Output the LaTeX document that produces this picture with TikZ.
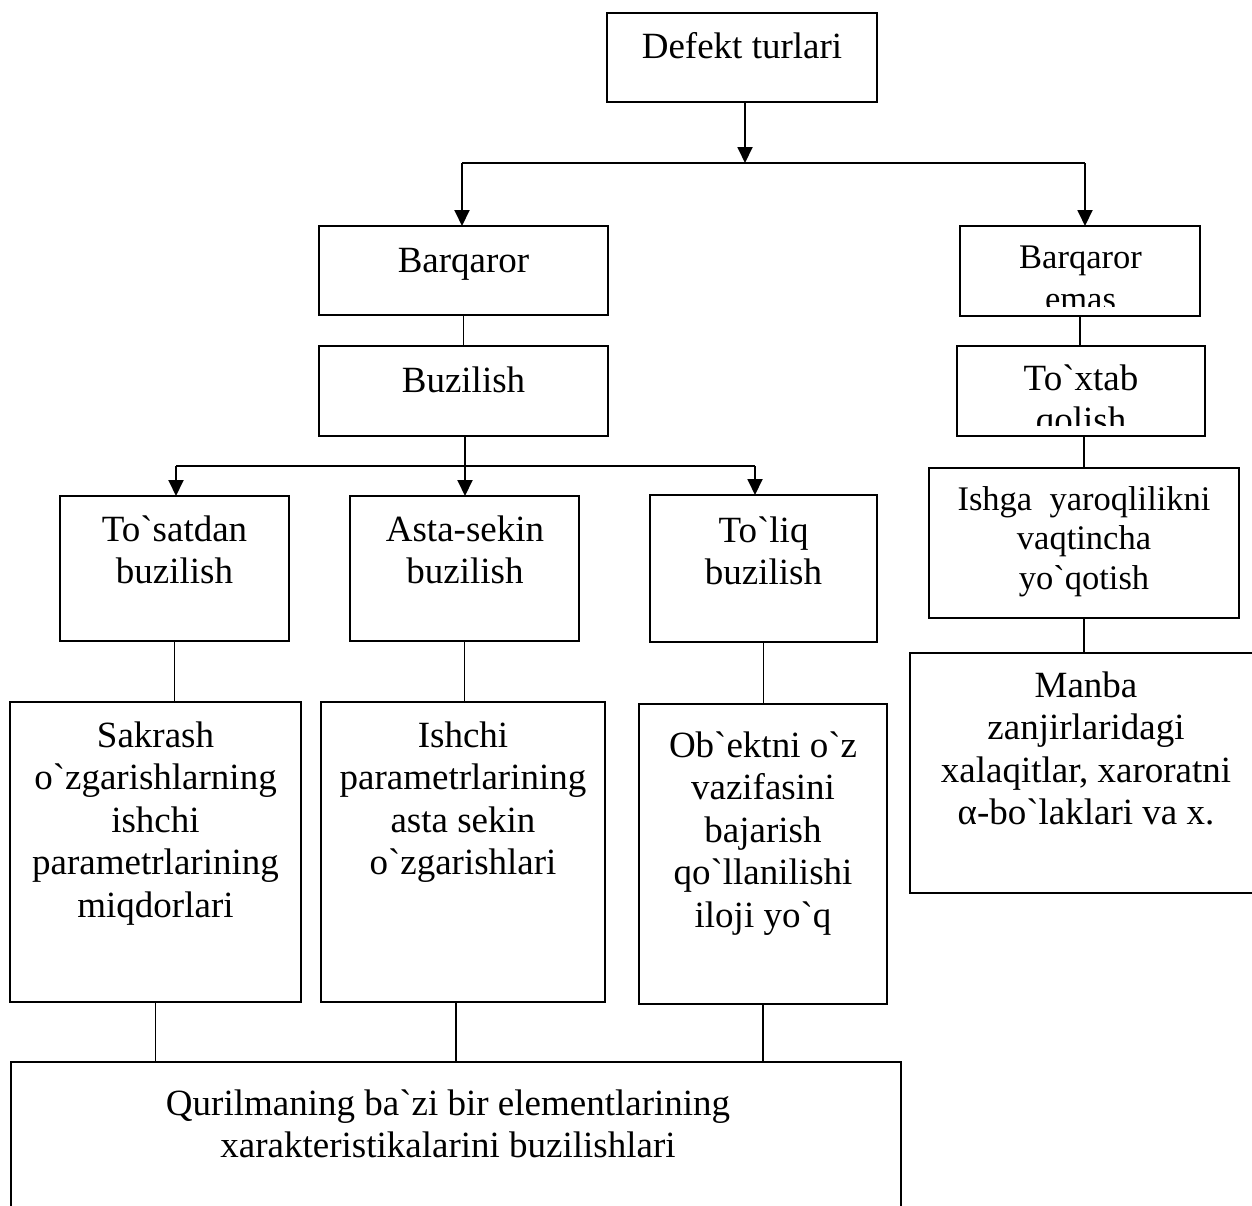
\documentclass[tikz,border=0pt]{standalone}
\usepackage{fontspec}
\setmainfont{Liberation Serif}[Ligatures=TeXOff]
\usetikzlibrary{arrows.meta,calc}
\newcommand{\mlines}[1]{\begin{tabular}[t]{@{}c@{}}#1\end{tabular}}
\begin{document}
\begin{tikzpicture}[x=1pt,y=-1pt,
  box/.style={draw, line width=1.8pt, inner sep=0pt, outer sep=0pt, anchor=north west},
  txt/.style={anchor=base, inner sep=0pt, font=\fontsize{37}{42.5}\selectfont},
  txts/.style={anchor=base, inner sep=0pt, font=\fontsize{34.5}{39.7}\selectfont},
  txtb/.style={anchor=base, inner sep=0pt, font=\fontsize{34.5}{42.5}\selectfont},
  conn/.style={line width=1.4pt},
  arr/.style={line width=1.9pt, -{Triangle[width=15pt,length=16pt]}},
  hline/.style={line width=1.9pt}]
\clip (0,0) rectangle (1252,1205);
\fill[white] (0,0) rectangle (1252,1205);
% boxes
\node[box, minimum width=270, minimum height=89] (top) at (607,13) {};
\node[box, minimum width=289, minimum height=89] (barq) at (319,226) {};
\node[box, minimum width=289, minimum height=90] (buz) at (319,346) {};
\node[box, minimum width=229, minimum height=145] (tos) at (60,496) {};
\node[box, minimum width=229, minimum height=145] (asta) at (350,496) {};
\node[box, minimum width=227, minimum height=147] (toliq) at (650,495) {};
\node[box, minimum width=291, minimum height=300] (sak) at (10,702) {};
\node[box, minimum width=284, minimum height=300] (ish) at (321,702) {};
\node[box, minimum width=248, minimum height=300] (obe) at (639,704) {};
\node[box, minimum width=890, minimum height=170] (bot) at (11,1062) {};
\node[box, minimum width=240, minimum height=90] (bemas) at (960,226) {};
\node[box, minimum width=248, minimum height=90] (toxt) at (957,346) {};
\node[box, minimum width=310, minimum height=150] (ishga) at (929,468) {};
\node[box, minimum width=360, minimum height=240] (manba) at (910,653) {};
% texts
\node[txt] (ttop) at (742,58) {Defekt turlari};
\node[txt] (tbarq) at (463.5,272) {Barqaror};
\node[txt] (tbuz) at (463.5,392) {Buzilish};
\node[txt] (ttos) at (174.5,541) {\mlines{To`satdan\\buzilish}};
\node[txt] (tasta) at (465,541) {\mlines{Asta-sekin\\buzilish}};
\node[txt] (ttoliq) at (763.5,542) {\mlines{To`liq\\buzilish}};
\node[txt] (tsak) at (155.5,747) {\mlines{Sakrash\\o`zgarishlarning\\ishchi\\parametrlarining\\miqdorlari}};
\node[txt] (tish) at (463,747) {\mlines{Ishchi\\parametrlarining\\asta sekin\\o`zgarishlari}};
\node[txt] (tobe) at (763,757) {\mlines{Ob`ektni o`z\\vazifasini\\bajarish\\qo`llanilishi\\iloji yo`q}};
\node[txt] (tbot) at (448,1115) {\mlines{Qurilmaning ba`zi bir elementlarining\\xarakteristikalarini buzilishlari}};
\begin{scope}
  \clip (955,220) rectangle (1205,306);
  \node[txtb] (tbemas) at (1080.5,268) {\mlines{Barqaror\\emas}};
\end{scope}
\begin{scope}
  \clip (950,340) rectangle (1210,425);
  \node[txt] (ttoxt) at (1081,390) {\mlines{To`xtab\\qolish}};
\end{scope}
\node[txts] (tishga) at (1084,510) {\mlines{Ishga\ \ yaroqlilikni\\vaqtincha\\yo`qotish}};
\node[txt] (tmanba) at (1086,697) {\mlines{Manba\\zanjirlaridagi\\xalaqitlar, xaroratni\\α-bo`laklari va x.}};
% connectors
\coordinate (j1) at (745,163);
\coordinate (jl) at (462,163);
\coordinate (jr) at (1085,163);
\draw[arr] (j1 |- top.south) -- (j1);
\draw[hline] (jl) -- (jr);
\draw[arr] (jl) -- (jl |- barq.north);
\draw[arr] (jr) -- (jr |- bemas.north);
\draw[conn] (barq.south) -- (buz.north);
\coordinate (j2) at (465,466);
\coordinate (bl) at (176,466);
\coordinate (br) at (755,466);
\draw[arr] (j2 |- buz.south) -- (j2 |- asta.north);
\draw[hline] (bl) -- (br);
\draw[arr] (bl) -- (bl |- tos.north);
\draw[arr] (br) -- (br |- toliq.north);
\draw[conn] (tos.south) -- (tos.south |- sak.north);
\draw[conn] (asta.south) -- (asta.south |- ish.north);
\draw[conn] (toliq.south) -- (toliq.south |- obe.north);
\draw[conn] (sak.south) -- (sak.south |- bot.north);
\draw[conn] ($(ish.south)+(-7,0)$) -- ($(ish.south |- bot.north)+(-7,0)$);
\draw[conn] (obe.south) -- (obe.south |- bot.north);
\draw[conn] (bemas.south) -- (bemas.south |- toxt.north);
\draw[conn] (ishga.north) -- (ishga.north |- toxt.south);
\draw[conn] (ishga.south) -- (ishga.south |- manba.north);
\end{tikzpicture}
\end{document}
